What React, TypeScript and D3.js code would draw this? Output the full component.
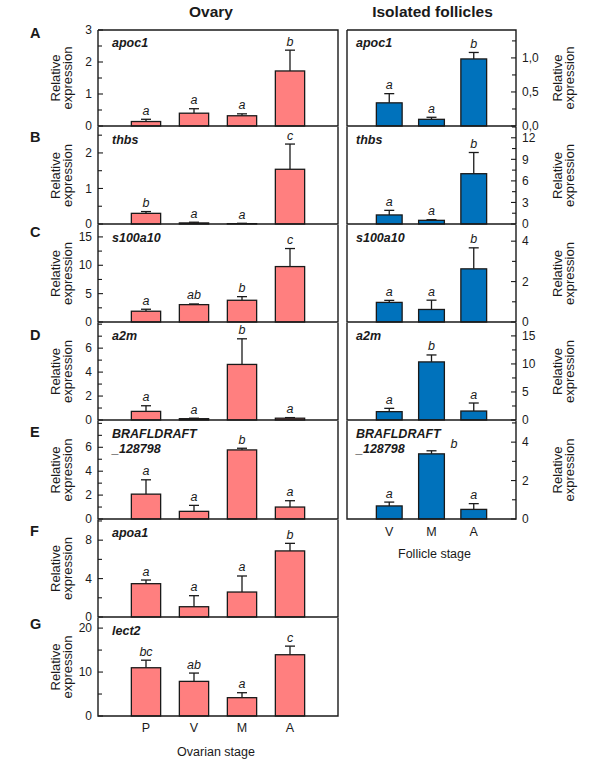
import React from "react";
import * as d3 from "d3";

const ovaryStages = ["P", "V", "M", "A"];
const follicleStages = ["V", "M", "A"];
const panelLetters = ["A", "B", "C", "D", "E", "F", "G"];
const ovaryGenes = ["apoc1", "thbs", "s100a10", "a2m", "BRAFLDRAFT\n_128798", "apoa1", "lect2"];
const follicleGenes = ["apoc1", "thbs", "s100a10", "a2m", "BRAFLDRAFT\n_128798"];

const ovaryMeans = [
  [0.14, 0.4, 0.32, 1.72],
  [0.3, 0.03, 0.01, 1.54],
  [1.9, 3.06, 3.83, 9.77],
  [0.72, 0.11, 4.64, 0.15],
  [2.08, 0.64, 5.78, 1.0],
  [3.47, 1.07, 2.6, 6.88],
  [10.98, 7.88, 4.17, 13.94],
];
const ovaryErrors = [
  [0.07, 0.14, 0.06, 0.65],
  [0.05, 0.02, 0.01, 0.71],
  [0.35, 0.12, 0.64, 3.18],
  [0.47, 0.04, 2.14, 0.05],
  [1.2, 0.5, 0.14, 0.53],
  [0.38, 1.15, 1.67, 0.79],
  [1.72, 1.89, 1.13, 1.96],
];
const ovaryLetters = [
  ["a", "a", "a", "b"],
  ["b", "a", "a", "c"],
  ["a", "ab", "b", "c"],
  ["a", "a", "b", "a"],
  ["a", "a", "b", "a"],
  ["a", "a", "a", "b"],
  ["bc", "ab", "a", "c"],
];
const ovaryYMax = [3, 2.73, 17.1, 8.1, 8.2, 10.1, 22.3];
const ovaryTickLabels = [[0, 1, 2, 3], [0, 1, 2], [0, 5, 10, 15], [0, 2, 4, 6], [0, 2, 4, 6], [0, 4, 8], [0, 10, 20]];
const ovaryMinorStep = [0.5, 0.5, 2.5, 1, 1, 2, 5];

const follicleMeans = [
  [0.34, 0.098, 0.985],
  [1.26, 0.51, 7.0],
  [0.97, 0.62, 2.63],
  [1.49, 10.36, 1.6],
  [0.68, 3.39, 0.5],
];
const follicleErrors = [
  [0.135, 0.03, 0.095],
  [0.64, 0.09, 2.95],
  [0.1, 0.46, 1.04],
  [0.59, 1.24, 1.43],
  [0.2, 0.16, 0.3],
];
const follicleLetters = [
  ["a", "a", "b"],
  ["a", "a", "b"],
  ["a", "a", "b"],
  ["a", "b", "a"],
  ["a", "b", "a"],
];
const follicleYMax = [1.41, 13.5, 4.8, 17.3, 5.1];
const follicleTickLabels = [[0, 0.5, 1.0], [0, 3, 6, 9, 12], [0, 2, 4], [0, 5, 10, 15], [0, 2, 4]];
const follicleMinorStep = [0.25, 1.5, 1, 2.5, 1];

// layout
const panelTops = [30, 127, 225, 323, 421, 520, 618];
const panelBottoms = [126, 224, 322, 420, 519, 617, 716];
const letterDy = [8, 15, 12, 17, 16, 16, 11];
const LX0 = 98, LX1 = 338, RX0 = 347, RX1 = 516;
const FONT = "'Liberation Sans', Arial, Helvetica, sans-serif";
const INK = "#1a1a1a";
const PINK = "#FF7F7F";
const BLUE = "#0072BC";

const commaFmt = d3.formatLocale({ decimal: ",", thousands: ".", grouping: [3], currency: ["", ""] }).format(".1f");

type PanelProps = {
  x0: number; x1: number; top: number; bottom: number;
  stages: string[]; means: number[]; errors: number[]; letters: string[];
  yMax: number; ticks: number[]; minorStep: number; side: "left" | "right";
  color: string; gene: string; drawTop: boolean; fmt: (v: number) => string;
  sideLetterIndex?: number;
};

function Panel(p: PanelProps) {
  const y = d3.scaleLinear().domain([0, p.yMax]).range([p.bottom, p.top]);
  const x = d3.scalePoint<string>().domain(p.stages).range([p.x0, p.x1]).padding(1);
  const bw = x.step() * 0.61;
  const cap = 10;
  const axisX = p.side === "left" ? p.x0 : p.x1;
  const dir = p.side === "left" ? 1 : -1;
  const minor = d3.range(0, p.yMax + 1e-9, p.minorStep);
  const geneLines = p.gene.split("\n");
  const gx = p.side === "left" ? p.x0 + 14 : p.x0 + 9;
  const titleX1 = p.side === "left" ? 60 : 562;
  const titleX2 = p.side === "left" ? 72 : 574;
  const cy = (p.top + p.bottom) / 2;
  return (
    <g>
      {p.means.map((m, i) => {
        const cx = x(p.stages[i])!;
        const et = y(m + p.errors[i]);
        const side = p.sideLetterIndex === i;
        return (
          <g key={i}>
            <line x1={cx} x2={cx} y1={y(m)} y2={et} stroke={INK} strokeWidth={1.3} />
            <line x1={cx - cap / 2} x2={cx + cap / 2} y1={et} y2={et} stroke={INK} strokeWidth={1.3} />
            <rect x={cx - bw / 2} y={y(m)} width={bw} height={p.bottom - y(m)} fill={p.color} stroke={INK} strokeWidth={1.3} />
            <text
              x={side ? cx + bw / 2 + 6 : cx}
              y={side ? et - 3 : et - 4.5}
              textAnchor={side ? "start" : "middle"}
              fontFamily={FONT} fontStyle="italic" fontSize={12.5} fill={INK}
            >{p.letters[i]}</text>
          </g>
        );
      })}
      {minor.map((v, i) => {
        const major = p.ticks.some((t) => Math.abs(t - v) < 1e-9);
        return (
          <line key={"t" + i} x1={axisX} x2={axisX + dir * (major ? 5 : 4)} y1={y(v)} y2={y(v)} stroke={INK} strokeWidth={1.1} />
        );
      })}
      {p.ticks.map((t, i) => (
        <text key={"l" + i} x={p.side === "left" ? axisX - 6 : axisX + 6} y={y(t) + 4.2}
          textAnchor={p.side === "left" ? "end" : "start"} fontFamily={FONT} fontSize={12} fill={INK}>
          {p.fmt(t)}
        </text>
      ))}
      <path
        d={`M${p.x0},${p.top}V${p.bottom}H${p.x1}V${p.top}` + (p.drawTop ? `H${p.x0}` : "")}
        fill="none" stroke={INK} strokeWidth={1.4}
      />
      {geneLines.map((g, i) => (
        <text key={"g" + i} x={gx} y={p.top + 17 + i * 15} fontFamily={FONT} fontWeight="bold" fontStyle="italic" fontSize={12.5} fill={INK}>
          {g}
        </text>
      ))}
      <text transform={`translate(${titleX1},${cy}) rotate(-90)`} textAnchor="middle" fontFamily={FONT} fontSize={13} fill={INK}>Relative</text>
      <text transform={`translate(${titleX2},${cy}) rotate(-90)`} textAnchor="middle" fontFamily={FONT} fontSize={13} fill={INK}>expression</text>
    </g>
  );
}

export default function App() {
  const intFmt = (v: number) => String(v);
  const lxs = d3.scalePoint<string>().domain(ovaryStages).range([LX0, LX1]).padding(1);
  const rxs = d3.scalePoint<string>().domain(follicleStages).range([RX0, RX1]).padding(1);
  return (
    <svg width={600} height={761} style={{ position: "absolute", left: 0, top: 0, background: "#fff" }}>
      <rect width={600} height={761} fill="#fff" />
      <text x={(LX0 + LX1) / 2 - 7} y={17} textAnchor="middle" fontFamily={FONT} fontWeight="bold" fontSize={15.5} fill={INK}>Ovary</text>
      <text x={(RX0 + RX1) / 2 + 1} y={17} textAnchor="middle" fontFamily={FONT} fontWeight="bold" fontSize={15.5} fill={INK}>Isolated follicles</text>
      {ovaryMeans.map((m, i) => (
        <g key={"o" + i}>
          <text x={30} y={panelTops[i] + letterDy[i]} fontFamily={FONT} fontWeight="bold" fontSize={14.5} fill={INK}>{panelLetters[i]}</text>
          <Panel x0={LX0} x1={LX1} top={panelTops[i]} bottom={panelBottoms[i]} stages={ovaryStages}
            means={m} errors={ovaryErrors[i]} letters={ovaryLetters[i]} yMax={ovaryYMax[i]}
            ticks={ovaryTickLabels[i]} minorStep={ovaryMinorStep[i]} side="left" color={PINK}
            gene={ovaryGenes[i]} drawTop={i === 0} fmt={intFmt} />
        </g>
      ))}
      {follicleMeans.map((m, i) => (
        <Panel key={"f" + i} x0={RX0} x1={RX1} top={panelTops[i]} bottom={panelBottoms[i]} stages={follicleStages}
          means={m} errors={follicleErrors[i]} letters={follicleLetters[i]} yMax={follicleYMax[i]}
          ticks={follicleTickLabels[i]} minorStep={follicleMinorStep[i]} side="right" color={BLUE}
          gene={follicleGenes[i]} drawTop={i === 0} fmt={i === 0 ? commaFmt : intFmt}
          sideLetterIndex={i === 4 ? 1 : undefined} />
      ))}
      {ovaryStages.map((s) => (
        <text key={"xs" + s} x={lxs(s)} y={732} textAnchor="middle" fontFamily={FONT} fontSize={12.5} fill={INK}>{s}</text>
      ))}
      <text x={(LX0 + LX1) / 2 - 2} y={756} textAnchor="middle" fontFamily={FONT} fontSize={12.5} fill={INK}>Ovarian stage</text>
      {follicleStages.map((s) => (
        <text key={"xr" + s} x={rxs(s)} y={536} textAnchor="middle" fontFamily={FONT} fontSize={12.5} fill={INK}>{s}</text>
      ))}
      <text x={(RX0 + RX1) / 2 + 3} y={558} textAnchor="middle" fontFamily={FONT} fontSize={12.5} fill={INK}>Follicle stage</text>
    </svg>
  );
}
